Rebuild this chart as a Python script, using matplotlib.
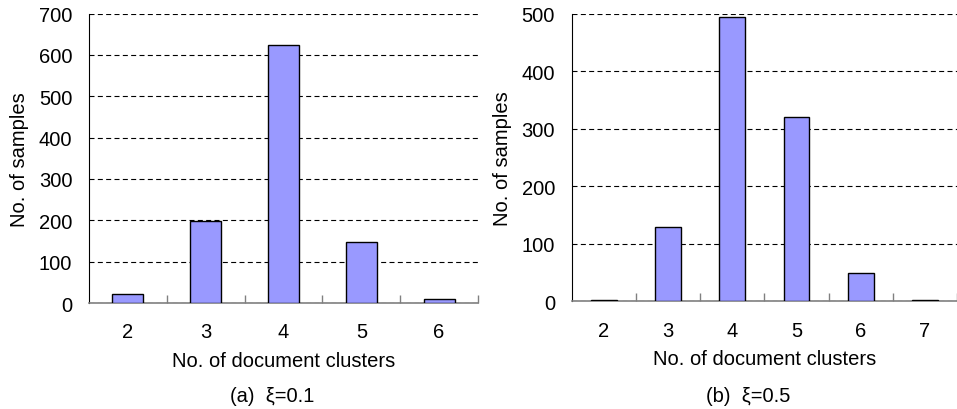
import matplotlib
matplotlib.use("Agg")
import matplotlib.pyplot as plt

plt.rcParams['font.family'] = ['Liberation Sans', 'DejaVu Sans']

# Sample counts per number of document clusters
clusters_a = [2, 3, 4, 5, 6]
samples_a = [23, 199, 625, 147, 10]

clusters_b = [2, 3, 4, 5, 6, 7]
samples_b = [2, 130, 495, 321, 50, 2]

bar_color = "#9999FF"
fs = 14.5

fig = plt.figure(figsize=(9.57, 4.10), dpi=100)


def draw_panel(rect, cats, vals, ymax, caption, cap_x):
    ax = fig.add_axes(rect)
    pos = range(len(cats))
    ax.bar(pos, vals, width=0.4, color=bar_color, edgecolor="black",
           linewidth=1.0, zorder=3)
    ax.set_xlim(-0.5, len(cats) - 0.5)
    ax.set_ylim(0, ymax)
    ax.set_yticks(range(0, ymax + 1, 100))
    ax.set_xticks(list(pos))
    ax.set_xticklabels([str(c) for c in cats])
    # category separators drawn as minor ticks pointing inward
    ax.set_xticks([p + 0.5 for p in pos], minor=True)
    ax.tick_params(axis="x", which="major", length=0, pad=14, labelsize=fs)
    ax.tick_params(axis="x", which="minor", direction="in", length=6,
                   color="#808080", width=1)
    ax.tick_params(axis="y", length=0, pad=12, labelsize=fs)
    ax.yaxis.grid(True, linestyle=(0, (4.5, 3)), color="black", linewidth=0.8,
                  zorder=0)
    for s in ("top", "right"):
        ax.spines[s].set_visible(False)
    ax.spines["bottom"].set_color("#808080")
    ax.spines["bottom"].set_linewidth(1.2)
    ax.spines["left"].set_color("black")
    ax.spines["left"].set_linewidth(0.8)
    ax.set_xlabel("No. of document clusters", fontsize=fs, labelpad=7)
    ax.set_ylabel("No. of samples", fontsize=fs, labelpad=7)
    fig.text(cap_x, 0.032, caption, ha="center", va="center", fontsize=fs)
    return ax


draw_panel([0.093, 0.2585, 0.4065, 0.706], clusters_a, samples_a, 700,
           "(a)  ξ=0.1", 272 / 957)
draw_panel([0.5974, 0.2627, 0.4026, 0.7015], clusters_b, samples_b, 500,
           "(b)  ξ=0.5", 748 / 957)

fig.savefig("out.png", dpi=100)
